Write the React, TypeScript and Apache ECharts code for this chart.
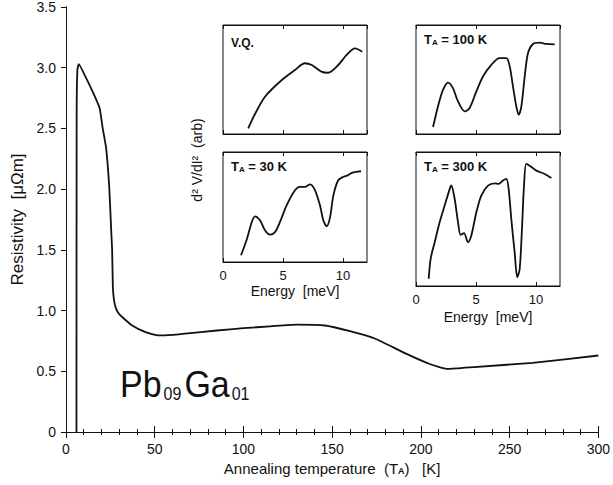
import React, { useEffect, useRef } from "react";
import * as echarts from "echarts";

// Main curve: annealing temperature (K) vs resistivity (μΩm)
const mainT = [5.9, 6.0, 6.4, 7.2, 11.5, 15.1, 18.9, 20.7, 22.6, 24.4, 25.5, 26.0, 26.4, 27.0, 28.1, 29.5, 31.8, 37.3, 44.8, 52.1, 60, 67, 85, 100, 115, 130, 146, 160, 174, 191, 205, 215, 230, 263, 300];
const mainR = [0, 2.6, 2.98, 3.03, 2.91, 2.8, 2.67, 2.5, 2.34, 2.01, 1.65, 1.5, 1.2, 1.09, 1.02, 0.98, 0.945, 0.877, 0.822, 0.795, 0.8, 0.81, 0.836, 0.855, 0.87, 0.885, 0.877, 0.83, 0.77, 0.65, 0.56, 0.52, 0.535, 0.57, 0.63];

// Insets: energy (meV) vs d2V/dI2 (arb)
const vqE = [2.1, 2.7, 3.5, 4.9, 6.0, 6.83, 7.4, 8.2, 8.75, 9.6, 10.3, 11.0, 11.6];
const vqY = [5.2, 19, 34.2, 49.5, 58.7, 64.9, 63.3, 57.2, 56.2, 63.3, 72.5, 78.6, 75.5];

const t30E = [1.5, 2.0, 2.4, 2.67, 3.08, 3.5, 3.9, 4.33, 4.75, 5.3, 6.0, 6.4, 6.83, 7.25, 7.67, 8.08, 8.36, 8.64, 8.92, 9.2, 9.6, 10.0, 10.4, 10.8, 11.5];
const t30Y = [6.1, 21.2, 36.4, 41.5, 37.9, 28.8, 24.8, 27.2, 36.4, 51.5, 65.2, 68.3, 68.3, 70.6, 65.2, 51.5, 37.9, 32.5, 40.6, 60.6, 74.3, 77.3, 78.8, 81.3, 82.5];

const t100E = [1.42, 1.83, 2.25, 2.67, 3.08, 3.5, 4.06, 4.47, 5.03, 5.58, 6.28, 6.97, 7.53, 7.81, 8.08, 8.36, 8.56, 8.78, 9.06, 9.33, 9.75, 10.3, 10.86, 11.56];
const t100Y = [6.4, 25.3, 40.5, 47.2, 42.1, 29.9, 20.8, 23.9, 39.1, 52.8, 63.5, 69.6, 69.6, 62.0, 43.7, 25.3, 17.7, 25.3, 52.8, 74.1, 82.6, 83.8, 82.6, 82.3];

const t300E = [1.06, 1.22, 1.56, 1.97, 2.39, 2.81, 2.94, 3.22, 3.5, 3.72, 4.0, 4.33, 4.61, 5.03, 5.44, 6.0, 6.56, 6.89, 7.25, 7.53, 7.72, 7.94, 8.22, 8.44, 8.64, 8.83, 9.0, 9.19, 9.47, 10.03, 10.72, 11.28];
const t300Y = [5.4, 20.3, 32.7, 47.6, 60.1, 72.5, 75.0, 65.1, 47.6, 38.2, 39.4, 32.7, 37.7, 55.0, 67.5, 74.9, 76.6, 76.2, 78.7, 79.9, 72.5, 50.1, 25.1, 6.5, 12.7, 42.5, 74.9, 91.1, 89.8, 86.1, 83.6, 80.6];

const mainXTicks = [0, 50, 100, 150, 200, 250, 300];
const mainYTicks = [0, 0.5, 1.0, 1.5, 2.0, 2.5, 3.0, 3.5];
const insetXTicks = [0, 5, 10];

const FONT = "Liberation Sans";
const BLACK = "#111";

const pairs = (xs: number[], ys: number[]) => xs.map((x, i) => [x, ys[i]]);

export default function App() {
  const ref = useRef<HTMLDivElement>(null);
  useEffect(() => {
    if (!ref.current) return;
    const chart = echarts.init(ref.current, undefined, { renderer: "svg" });

    const insetGrids = [
      { left: 223, top: 25, width: 144, height: 109 },
      { left: 223, top: 152, width: 144, height: 110 },
      { left: 416, top: 25, width: 144, height: 109 },
      { left: 416, top: 152, width: 144, height: 134 },
    ];
    const showLabels = [false, true, false, true];
    const nameGaps = [0, 22, 0, 24];

    const grid: any[] = [{ left: 66, top: 5, right: 7, bottom: 53 }];
    insetGrids.forEach((g) =>
      grid.push({ ...g, show: true, borderColor: BLACK, borderWidth: 1, backgroundColor: "#fff" })
    );

    const lineStyle = { color: BLACK, width: 1 };
    const xAxis: any[] = [
      {
        gridIndex: 0,
        type: "value",
        min: 0,
        max: 300,
        interval: 50,
        position: "bottom",
        axisLine: { lineStyle },
        axisTick: { inside: true, length: 6, lineStyle },
        minorTick: { show: true, splitNumber: 5, length: 3, lineStyle },
        splitLine: { show: false },
        axisLabel: {
          color: BLACK,
          fontFamily: FONT,
          fontSize: 14,
          margin: 10,
          formatter: (v: number) => (mainXTicks.includes(v) ? String(v) : ""),
        },
        name: "Annealing temperature  ({t|T}{s|A})   [K]",
        nameLocation: "middle",
        nameGap: 26,
        nameTextStyle: {
          color: BLACK,
          fontFamily: FONT,
          fontSize: 15,
          rich: {
            t: { fontFamily: FONT, fontSize: 15, color: BLACK },
            s: { fontFamily: FONT, fontSize: 9, fontWeight: "bold", color: BLACK, verticalAlign: "bottom", lineHeight: 12 },
          },
        },
      },
      {
        gridIndex: 0,
        type: "value",
        min: 0,
        max: 300,
        interval: 50,
        position: "top",
        axisLine: { lineStyle },
        axisTick: { inside: true, length: 6, lineStyle },
        minorTick: { show: true, splitNumber: 5, length: 3, lineStyle },
        splitLine: { show: false },
        axisLabel: { show: false },
      },
    ];
    insetGrids.forEach((_, i) => {
      xAxis.push({
        gridIndex: i + 1,
        type: "value",
        min: 0,
        max: 12,
        interval: 5,
        position: "bottom",
        axisLine: { lineStyle },
        axisTick: { inside: true, length: 4, lineStyle },
        splitLine: { show: false },
        axisLabel: {
          show: showLabels[i],
          showMaxLabel: false,
          color: BLACK,
          fontFamily: FONT,
          fontSize: 13,
          margin: 7,
          formatter: (v: number) => (insetXTicks.includes(v) ? String(v) : ""),
        },
        name: showLabels[i] ? "Energy  [meV]" : "",
        nameLocation: "middle",
        nameGap: nameGaps[i],
        nameTextStyle: { color: BLACK, fontFamily: FONT, fontSize: 14 },
      });
    });
    insetGrids.forEach((_, i) => {
      xAxis.push({
        gridIndex: i + 1,
        type: "value",
        min: 0,
        max: 12,
        interval: 5,
        position: "top",
        axisLine: { lineStyle },
        axisTick: { inside: true, length: 4, lineStyle },
        splitLine: { show: false },
        axisLabel: { show: false },
      });
    });

    const yAxis: any[] = [
      {
        gridIndex: 0,
        type: "value",
        min: 0,
        max: 3.5,
        interval: 0.5,
        position: "left",
        axisLine: { show: true, lineStyle },
        axisTick: { show: true, inside: false, length: 4, lineStyle },
        splitLine: { show: false },
        axisLabel: {
          color: BLACK,
          fontFamily: FONT,
          fontSize: 14,
          margin: 10,
          formatter: (v: number) => (v === 0 ? "0" : mainYTicks.includes(v) ? v.toFixed(1) : ""),
        },
        name: "Resistivity  [μΩm]",
        nameLocation: "middle",
        nameGap: 38,
        nameTextStyle: { color: BLACK, fontFamily: FONT, fontSize: 17 },
      },
      {
        gridIndex: 0,
        type: "value",
        min: 0,
        max: 3.5,
        interval: 0.5,
        position: "right",
        axisLine: { show: true, lineStyle },
        axisTick: { show: true, inside: true, length: 5, lineStyle },
        splitLine: { show: false },
        axisLabel: { show: false },
      },
    ];
    insetGrids.forEach((_, i) => {
      yAxis.push({
        gridIndex: i + 1,
        type: "value",
        min: 0,
        max: 100,
        show: false,
      });
    });

    const curve = { color: BLACK, width: 1.8 };
    const series: any[] = [
      {
        type: "line",
        xAxisIndex: 0,
        yAxisIndex: 0,
        data: pairs(mainT, mainR),
        showSymbol: false,
        smooth: 0.15,
        lineStyle: curve,
      },
    ];
    const insetData = [pairs(vqE, vqY), pairs(t30E, t30Y), pairs(t100E, t100Y), pairs(t300E, t300Y)];
    insetData.forEach((d, i) => {
      series.push({
        type: "line",
        xAxisIndex: i + 2,
        yAxisIndex: i + 2,
        data: d,
        showSymbol: false,
        smooth: 0.3,
        lineStyle: curve,
      });
    });

    const titleRich = {
      t: { fontFamily: FONT, fontSize: 13, fontWeight: "bold", fill: BLACK },
      s: { fontFamily: FONT, fontSize: 8, fontWeight: "bold", fill: BLACK, verticalAlign: "bottom", lineHeight: 10 },
      n: { fontFamily: FONT, fontSize: 13, fontWeight: "bold", fill: BLACK },
    };
    const graphic: any[] = [
      {
        type: "text",
        left: 120,
        top: 366,
        scaleY: 1.1,
        style: {
          text: "{a|Pb}{s|09}{a|Ga}{s|01}",
          rich: {
            a: { fontFamily: FONT, fontSize: 34, fill: BLACK },
            s: { fontFamily: FONT, fontSize: 16, fill: BLACK, verticalAlign: "bottom", lineHeight: 16, padding: [0, 3, 0, 2] },
          },
        },
      },
      {
        type: "text",
        left: 231,
        top: 37,
        style: { text: "V.Q.", fontFamily: FONT, fontSize: 12, fontWeight: "bold", fill: BLACK },
      },
      { type: "text", left: 231, top: 160, style: { text: "{t|T}{s|A}{n| = 30 K}", rich: titleRich } },
      { type: "text", left: 424, top: 33, style: { text: "{t|T}{s|A}{n| = 100 K}", rich: titleRich } },
      { type: "text", left: 424, top: 160, style: { text: "{t|T}{s|A}{n| = 300 K}", rich: titleRich } },
      {
        type: "text",
        x: 197,
        y: 160,
        rotation: Math.PI / 2,
        style: {
          text: "d² V/dI²  (arb)",
          fontFamily: FONT,
          fontSize: 14,
          fill: BLACK,
          align: "center",
          verticalAlign: "middle",
        },
      },
    ];

    chart.setOption({
      animation: false,
      backgroundColor: "#fff",
      grid,
      xAxis,
      yAxis,
      series,
      graphic,
    });
    return () => chart.dispose();
  }, []);

  return <div ref={ref} style={{ width: 613, height: 485, position: "absolute", left: 0, top: 0 }} />;
}
